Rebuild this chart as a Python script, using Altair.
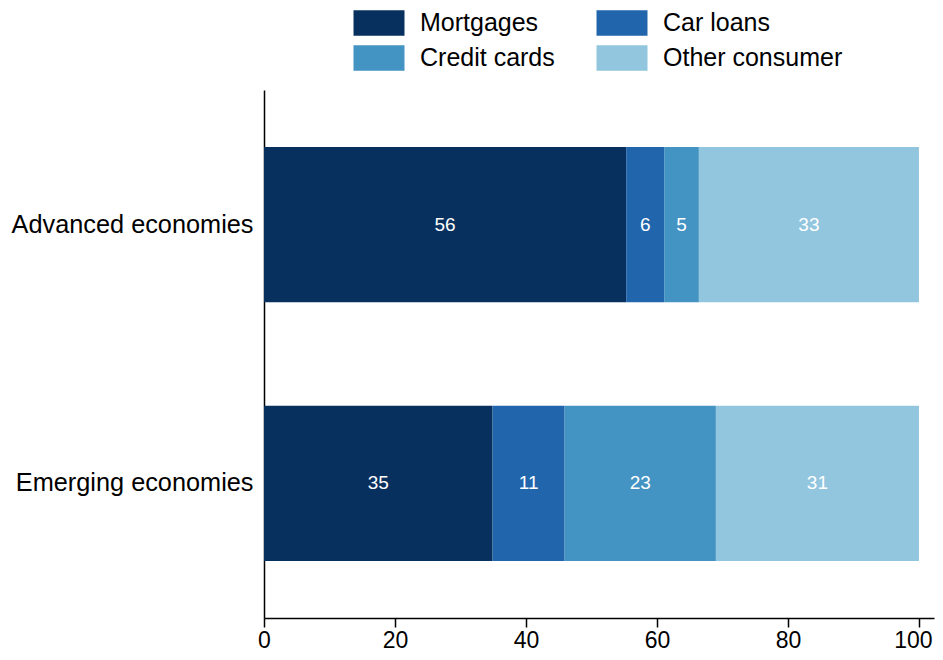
import altair as alt
import pandas as pd

categories = ["Advanced economies", "Emerging economies"]
series = ["Mortgages", "Car loans", "Credit cards", "Other consumer"]
legend_order = ["Mortgages", "Credit cards", "Car loans", "Other consumer"]
colors = ["#08305e", "#2166ac", "#4393c3", "#92c5de"]
advanced_values = [55.3, 5.8, 5.3, 33.6]
emerging_values = [34.9, 11.0, 23.1, 31.0]
advanced_labels = ["56", "6", "5", "33"]
emerging_labels = ["35", "11", "23", "31"]
x_ticks = [0, 20, 40, 60, 80, 100]

rows = []
for cat, vals, labs in [(categories[0], advanced_values, advanced_labels),
                        (categories[1], emerging_values, emerging_labels)]:
    for i, (s, v, l) in enumerate(zip(series, vals, labs)):
        rows.append({"category": cat, "series": s, "value": v, "label": l, "order": i})
df = pd.DataFrame(rows)

FONT = "Liberation Sans"

y_enc = alt.Y(
    "category:N", sort=categories, title=None,
    scale=alt.Scale(paddingInner=0.4, paddingOuter=0.22),
    axis=alt.Axis(ticks=False, labelFontSize=25.3, labelFont=FONT, labelColor="black",
                  labelPadding=11, domainColor="black", domainWidth=1.5, labelLimit=400),
)

base = alt.Chart(df)

bars = base.mark_bar().encode(
    y=y_enc,
    x=alt.X("value:Q", stack="zero", title=None,
            scale=alt.Scale(domain=[0, 102.3], nice=False, zero=True),
            axis=alt.Axis(values=x_ticks, grid=False, tickSize=9, tickColor="black",
                          tickWidth=1.5, domainColor="black", domainWidth=1.5,
                          labelFontSize=23, labelFont=FONT, labelColor="black",
                          labelPadding=2, labelFlush=False,
                          labelOffset={"condition": {"test": "datum.value == 100", "value": -6},
                                       "value": 0})),
    color=alt.Color("series:N", scale=alt.Scale(domain=series, range=colors),
                    legend=alt.Legend(title=None, orient="none", legendX=102, legendY=-80,
                                      values=legend_order,
                                      columns=2, columnPadding=41, rowPadding=9,
                                      symbolType="M-2,-1L2,-1L2,1L-2,1Z",
                                      symbolSize=650, symbolStrokeWidth=0,
                                      labelFontSize=25, labelFont=FONT, labelColor="black",
                                      labelOffset=28, padding=0, labelLimit=400)),
    order=alt.Order("order:Q"),
)

text = base.transform_window(
    cum="sum(value)", groupby=["category"], sort=[alt.SortField("order")], frame=[None, 0]
).transform_calculate(
    mid="datum.cum - datum.value / 2"
).mark_text(color="white", fontSize=19, font=FONT).encode(
    y=alt.Y("category:N", sort=categories),
    x=alt.X("mid:Q"),
    text="label:N",
)

chart = alt.layer(bars, text).properties(
    width=670, height=528,
    autosize=alt.AutoSizeParams(type="none"),
    padding={"left": 256, "top": 82, "right": 1, "bottom": 34},
).configure_view(stroke=None)

chart.save("out.html", embed_options={"renderer": "svg", "actions": False})
